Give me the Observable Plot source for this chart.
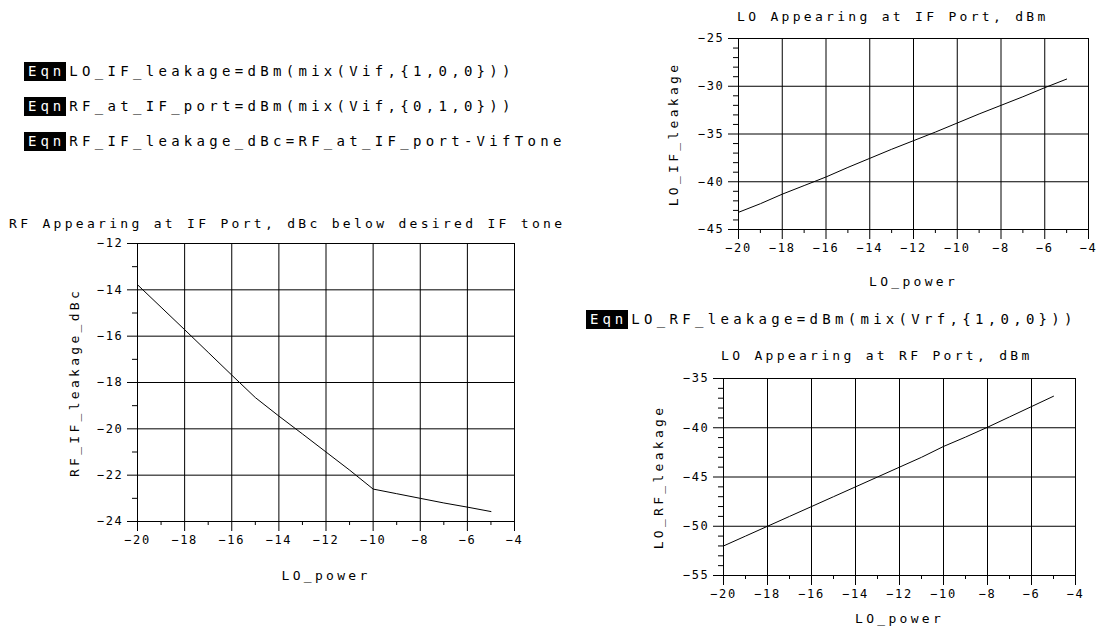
<!DOCTYPE html>
<html>
<head>
<meta charset="utf-8">
<script src="https://cdn.jsdelivr.net/npm/d3@7"></script>
<script src="https://cdn.jsdelivr.net/npm/@observablehq/plot@0.6"></script>
<style>
  html, body { margin: 0; padding: 0; background: #fff; }
  #page { position: relative; width: 1098px; height: 629px; overflow: hidden; background: #fff; color: #000; }
  .abs { position: absolute; z-index: 1; }
  .eqn { position: absolute; z-index: 2; font-family: "DejaVu Sans Mono", monospace; font-size: 14px; letter-spacing: 4.3px; white-space: nowrap; line-height: 20px; height: 20px; display: flex; align-items: center; }
  .eqn .tag { background: #000; color: #fff; padding: 0 1px 0 4px; margin-right: 3px; letter-spacing: 4px; line-height: 19px; }
  .title { position: absolute; z-index: 2; font-family: "DejaVu Sans Mono", monospace; font-size: 13px; letter-spacing: 3.3px; white-space: nowrap; line-height: 16px; }
  .plotbox svg { overflow: visible; background: transparent !important; }
  .plotbox g[aria-label="x-axis label"] text, .plotbox g[aria-label="y-axis label"] text { font-size: 13px; letter-spacing: 3.3px; }
</style>
</head>
<body>
<div id="page"></div>
<script>
// ---- data ----
const loPower = [-20, -19, -18, -17, -16, -15, -14, -13, -12, -11, -10, -9, -8, -7, -6, -5];
const rfIfLeakageDbc = [-13.78, -14.75, -15.72, -16.7, -17.68, -18.65, -19.45, -20.22, -21.0, -21.78, -22.6, -22.8, -23.0, -23.2, -23.38, -23.57];
const loIfLeakage = [-43.2, -42.3, -41.3, -40.4, -39.5, -38.5, -37.55, -36.6, -35.7, -34.8, -33.85, -32.9, -32.0, -31.1, -30.15, -29.25];
const loRfLeakage = [-52.0, -51.0, -50.0, -49.0, -48.0, -47.0, -46.0, -45.0, -44.0, -43.0, -41.9, -40.95, -39.95, -38.9, -37.85, -36.8];

const xMajorTicks = [-20, -18, -16, -14, -12, -10, -8, -6, -4];
const xMinorTicks = [-19, -17, -15, -13, -11, -9, -7, -5];
const yTicksDbc = [-24, -22, -20, -18, -16, -14, -12];
const yMinorDbc = [-23, -21, -19, -17, -15, -13];
const yTicksIf = [-45, -40, -35, -30, -25];
const yMinorIf = [-44, -43, -42, -41, -39, -38, -37, -36, -34, -33, -32, -31, -29, -28, -27, -26];
const yTicksRf = [-55, -50, -45, -40, -35];
const yMinorRf = [-54, -53, -52, -51, -49, -48, -47, -46, -44, -43, -42, -41, -39, -38, -37, -36];

const equations = [
  "LO_IF_leakage=dBm(mix(Vif,{1,0,0}))",
  "RF_at_IF_port=dBm(mix(Vif,{0,1,0}))",
  "RF_IF_leakage_dBc=RF_at_IF_port-VifTone"
];
const equationRf = "LO_RF_leakage=dBm(mix(Vrf,{1,0,0}))";
const titles = [
  "RF Appearing at IF Port, dBc below desired IF tone",
  "LO Appearing at IF Port, dBm",
  "LO Appearing at RF Port, dBm"
];
const xLabel = "LO_power";
const yLabels = ["RF_IF_leakage_dBc", "LO_IF_leakage", "LO_RF_leakage"];

// ---- helpers ----
const page = document.getElementById("page");

function addEqn(text, left, top) {
  const d = document.createElement("div");
  d.className = "eqn";
  d.style.left = left + "px";
  d.style.top = top + "px";
  const tag = document.createElement("span");
  tag.className = "tag";
  tag.textContent = "Eqn";
  d.appendChild(tag);
  d.appendChild(document.createTextNode(text));
  page.appendChild(d);
}

function addTitle(text, left, top) {
  const d = document.createElement("div");
  d.className = "title";
  d.style.left = left + "px";
  d.style.top = top + "px";
  d.textContent = text;
  page.appendChild(d);
}

function makePlot(cfg) {
  const data = loPower.map((x, i) => ({x, y: cfg.values[i]}));
  const chart = Plot.plot({
    width: cfg.width,
    height: cfg.height,
    marginLeft: cfg.ml, marginRight: cfg.mr, marginTop: cfg.mt, marginBottom: cfg.mb,
    x: {domain: [-20, -4]},
    y: {domain: cfg.yDomain},
    style: {fontFamily: "'DejaVu Sans Mono', monospace", fontSize: "12px", letterSpacing: "1.7px", color: "#000", background: "transparent"},
    marks: [
      Plot.gridX(xMajorTicks, {stroke: "#000", strokeOpacity: 1, strokeWidth: 1}),
      Plot.gridY(cfg.yTicks, {stroke: "#000", strokeOpacity: 1, strokeWidth: 1}),
      Plot.frame({stroke: "#000", strokeWidth: 1}),
      Plot.axisX(xMajorTicks, {tickSize: 10, tickPadding: 4, label: xLabel, labelAnchor: "center", labelOffset: cfg.xLabelOffset, labelArrow: "none"}),
      Plot.axisX(xMinorTicks, {tickSize: 4, tickFormat: () => "", label: null}),
      Plot.axisY(cfg.yTicks, {tickSize: 10, tickPadding: 4, label: cfg.yLabel, labelAnchor: "center", labelOffset: cfg.yLabelOffset, labelArrow: "none"}),
      Plot.axisY(cfg.yMinor, {tickSize: 5, tickFormat: () => "", label: null}),
      Plot.line(data, {x: "x", y: "y", stroke: "#000", strokeWidth: 1})
    ]
  });
  const box = document.createElement("div");
  box.className = "abs plotbox";
  box.style.left = cfg.left + "px";
  box.style.top = cfg.top + "px";
  box.appendChild(chart);
  page.appendChild(box);
}

// ---- plots ----
makePlot({
  left: 0, top: 200, width: 540, height: 400,
  ml: 137, mr: 26, mt: 43, mb: 79,
  yDomain: [-24, -12], yTicks: yTicksDbc, yMinor: yMinorDbc,
  values: rfIfLeakageDbc, yLabel: yLabels[0],
  xLabelOffset: 58, yLabelOffset: 68
});
makePlot({
  left: 600, top: 0, width: 498, height: 300,
  ml: 138, mr: 10, mt: 38, mb: 71,
  yDomain: [-45, -25], yTicks: yTicksIf, yMinor: yMinorIf,
  values: loIfLeakage, yLabel: yLabels[1],
  xLabelOffset: 56, yLabelOffset: 70
});
makePlot({
  left: 600, top: 340, width: 498, height: 289,
  ml: 123, mr: 23, mt: 38, mb: 54,
  yDomain: [-55, -35], yTicks: yTicksRf, yMinor: yMinorRf,
  values: loRfLeakage, yLabel: yLabels[2],
  xLabelOffset: 47, yLabelOffset: 70
});

// ---- equations & titles (on top) ----
addEqn(equations[0], 24, 61);
addEqn(equations[1], 24, 96);
addEqn(equations[2], 24, 131);
addEqn(equationRf, 586, 309);

addTitle(titles[0], 9, 216);
addTitle(titles[1], 737, 9);
addTitle(titles[2], 721, 348);
</script>
</body>
</html>
